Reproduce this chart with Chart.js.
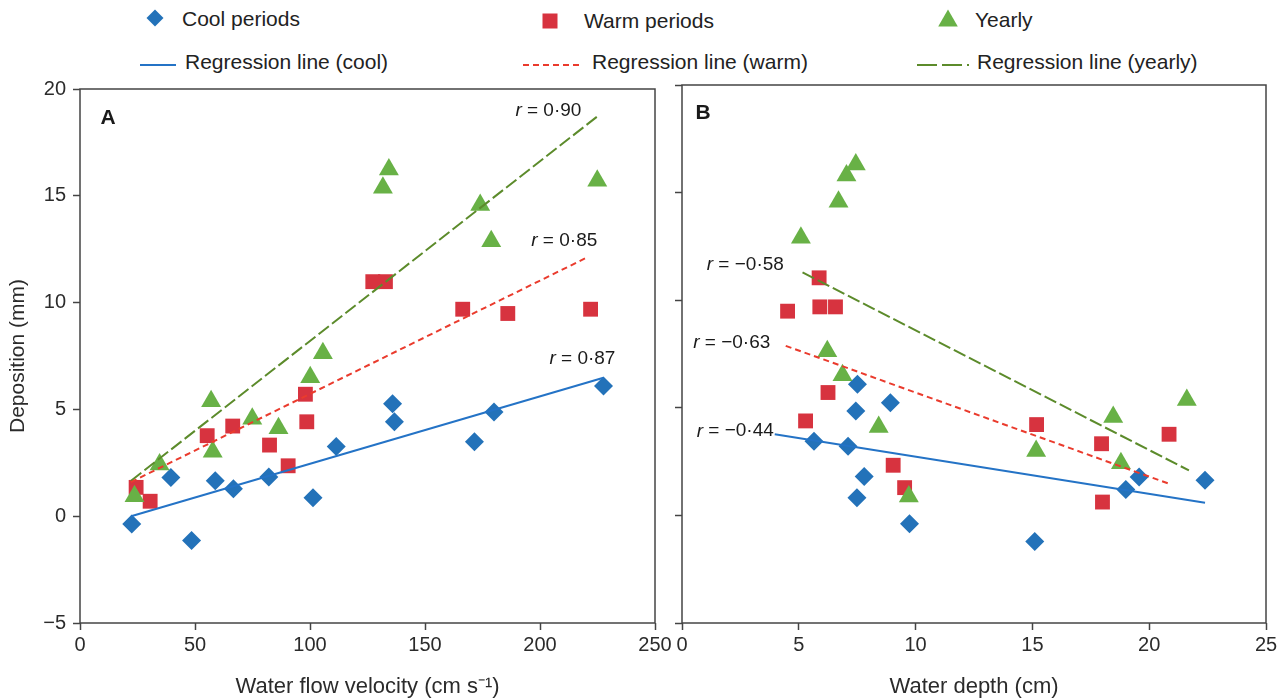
<!DOCTYPE html>
<html>
<head>
<meta charset="utf-8">
<script src="https://cdn.jsdelivr.net/npm/chart.js@4.4.1/dist/chart.umd.min.js"></script>
<style>
  html, body { margin: 0; padding: 0; background: #ffffff; }
  body { width: 1288px; height: 698px; position: relative; overflow: hidden;
         font-family: "Liberation Sans", Arial, sans-serif; }
  .lg { position: absolute; font-size: 21px; line-height: 1; color: #222; white-space: nowrap; }
  .mk { position: absolute; }
  #wrapA { position: absolute; left: 0; top: 70px; width: 690px; height: 628px; }
  #wrapB { position: absolute; left: 660px; top: 70px; width: 628px; height: 628px; }
</style>
</head>
<body>
<div id="legend"></div>
<div id="wrapA"><canvas id="cA" width="690" height="628"></canvas></div>
<div id="wrapB"><canvas id="cB" width="628" height="628"></canvas></div>
<script>
// ---------------- DATA ----------------
// Panel A: water flow velocity (cm s-1) vs deposition (mm)
const coolVelX  = [22.5, 48.5, 39.5, 58.8, 66.7, 82.1, 101.3, 111.4, 135.9, 136.7, 171.5, 180.0, 227.6];
const coolVelY  = [-0.36, -1.14, 1.81, 1.66, 1.28, 1.84, 0.86, 3.26, 5.26, 4.42, 3.49, 4.88, 6.09];
const warmVelX  = [24.4, 30.5, 55.3, 66.4, 82.4, 90.5, 98.0, 98.6, 127.3, 132.8, 166.4, 186.0, 222.0];
const warmVelY  = [1.35, 0.70, 3.77, 4.22, 3.33, 2.36, 5.71, 4.42, 10.98, 10.98, 9.69, 9.49, 9.69];
const yearVelX  = [23.7, 34.6, 57.0, 57.7, 74.9, 86.3, 100.1, 105.6, 134.3, 131.7, 174.0, 178.8, 224.9];
const yearVelY  = [0.93, 2.42, 5.38, 3.02, 4.56, 4.12, 6.51, 7.63, 16.23, 15.38, 14.57, 12.87, 15.70];
// regression line end points (panel A)
const coolLineVelX = [22.2, 227.6];  const coolLineVelY = [0.0, 6.48];
const warmLineVelX = [22.2, 220.0];  const warmLineVelY = [1.6, 12.09];
const yearLineVelX = [22.2, 225.1];  const yearLineVelY = [1.66, 18.73];
// r labels (panel A), right-aligned at x
const rLabelsA = ["0·90", "0·85", "0·87"];
const rLabelsAX = [218, 224.9, 232.8];
const rLabelsAY = [18.99, 12.9, 7.36];

// Panel B: water depth (cm) vs deposition (mm)
const coolDepX = [7.51, 8.92, 7.44, 5.65, 7.11, 7.80, 7.49, 9.74, 15.1, 19.0, 19.57, 22.39];
const coolDepY = [6.09, 5.24, 4.85, 3.44, 3.21, 1.81, 0.82, -0.39, -1.21, 1.20, 1.78, 1.63];
const warmDepX = [5.87, 4.52, 5.90, 6.57, 6.25, 5.29, 9.04, 9.53, 15.18, 17.96, 20.85, 18.0];
const warmDepY = [11.04, 9.49, 9.69, 9.69, 5.71, 4.39, 2.33, 1.29, 4.22, 3.33, 3.77, 0.62];
const yearDepX = [7.44, 7.04, 6.70, 5.09, 6.22, 6.87, 8.42, 9.71, 15.16, 18.46, 18.79, 21.61];
const yearDepY = [16.31, 15.80, 14.57, 12.90, 7.63, 6.51, 4.11, 0.88, 2.99, 4.57, 2.42, 5.36];
// regression line end points (panel B)
const coolLineDepX = [3.97, 22.39];  const coolLineDepY = [3.77, 0.59];
const warmLineDepX = [4.44, 20.85];  const warmLineDepY = [7.88, 1.47];
const yearLineDepX = [5.16, 21.70];  const yearLineDepY = [11.29, 2.09];
// r labels (panel B), left-aligned at x
const rLabelsB = ["−0·58", "−0·63", "−0·44"];
const rLabelsBX = [1.06, 0.48, 0.63];
const rLabelsBY = [11.63, 8.01, 3.91];

// axis ticks
const yTicks = [-5, 0, 5, 10, 15, 20];
const xTicksA = [0, 50, 100, 150, 200, 250];
const xTicksB = [0, 5, 10, 15, 20, 25];

const seriesNames = ["Cool periods", "Warm periods", "Yearly"];
const lineNames = ["Regression line (cool)", "Regression line (warm)", "Regression line (yearly)"];

// ---------------- STYLE ----------------
const C = {
  cool: '#2372b9', warm: '#d7333f', yearly: '#68b146',
  coolLine: '#2473c6', warmLine: '#ea3b2d', yearLine: '#5c8b2b',
  axis: '#444444', text: '#2b2b2b'
};
const FONT = '"Liberation Sans", Arial, sans-serif';
Chart.defaults.font.family = FONT;
Chart.defaults.color = C.text;

function pts(xs, ys) { return xs.map((x, i) => ({ x: x, y: ys[i] })); }

function datasets(cX, cY, wX, wY, yX, yY, clX, clY, wlX, wlY, ylX, ylY) {
  return [
    { label: lineNames[0], data: pts(clX, clY), showLine: true, borderColor: C.coolLine,
      borderWidth: 2, pointRadius: 0, pointHoverRadius: 0 },
    { label: lineNames[1], data: pts(wlX, wlY), showLine: true, borderColor: C.warmLine,
      borderWidth: 2, borderDash: [6, 4], pointRadius: 0, pointHoverRadius: 0 },
    { label: lineNames[2], data: pts(ylX, ylY), showLine: true, borderColor: C.yearLine,
      borderWidth: 2, borderDash: [13, 4], pointRadius: 0, pointHoverRadius: 0 },
    { label: seriesNames[2], data: pts(yX, yY), pointStyle: 'triangle', pointRadius: 11.5,
      backgroundColor: C.yearly, borderColor: C.yearly, borderWidth: 0 },
    { label: seriesNames[1], data: pts(wX, wY), pointStyle: 'rect', pointRadius: 10.5,
      backgroundColor: C.warm, borderColor: C.warm, borderWidth: 0 },
    { label: seriesNames[0], data: pts(cX, cY), pointStyle: 'rectRot', pointRadius: 9.5,
      backgroundColor: C.cool, borderColor: C.cool, borderWidth: 0 }
  ];
}

const framePlugin = {
  id: 'frame',
  beforeDatasetsDraw(chart) {
    const a = chart.chartArea, ctx = chart.ctx;
    ctx.save();
    ctx.strokeStyle = C.axis;
    ctx.lineWidth = 1.5;
    ctx.strokeRect(a.left, a.top, a.right - a.left, a.bottom - a.top);
    ctx.restore();
  }
};

const notesPlugin = {
  id: 'notes',
  afterDatasetsDraw(chart, args, opts) {
    const ctx = chart.ctx, xs = chart.scales.x, ys = chart.scales.y, a = chart.chartArea;
    ctx.save();
    // panel letter
    ctx.font = 'bold 21px ' + FONT;
    ctx.fillStyle = '#1a1a1a';
    ctx.textBaseline = 'middle';
    ctx.textAlign = 'center';
    ctx.fillText(opts.letter, a.left + opts.letterDx, a.top + opts.letterDy);
    // r labels
    ctx.textAlign = 'left';
    opts.texts.forEach((t, i) => {
      const px = xs.getPixelForValue(opts.xs[i]);
      const py = ys.getPixelForValue(opts.ys[i]);
      ctx.font = 'italic 19px ' + FONT;
      const w1 = ctx.measureText('r').width;
      ctx.font = '19px ' + FONT;
      const rest = ' = ' + t;
      const w2 = ctx.measureText(rest).width;
      const x0 = opts.align === 'right' ? px - (w1 + w2) : px;
      ctx.fillStyle = '#1a1a1a';
      ctx.font = 'italic 19px ' + FONT;
      ctx.fillText('r', x0, py);
      ctx.font = '19px ' + FONT;
      ctx.fillText(rest, x0 + w1, py);
    });
    ctx.restore();
  }
};

function minusFmt(v) { return String(v).replace('-', '−'); }

function options(xTicks, xTitle, yWidth, showYLabels, pad, notes) {
  const gridCommon = { drawOnChartArea: false, drawTicks: true, tickLength: 7,
                       tickColor: C.axis, tickWidth: 1.5 };
  return {
    responsive: false,
    animation: false,
    layout: { padding: pad },
    plugins: { legend: { display: false }, tooltip: { enabled: false }, notes: notes },
    scales: {
      x: {
        type: 'linear', min: xTicks[0], max: xTicks[xTicks.length - 1],
        afterBuildTicks: s => { s.ticks = xTicks.map(v => ({ value: v })); },
        ticks: { color: C.text, font: { size: 20 }, padding: 3, callback: v => minusFmt(v) },
        grid: gridCommon,
        border: { display: false },
        title: { display: true, text: xTitle, color: C.text,
                 font: { size: 22, lineHeight: 1 }, padding: { top: 0, bottom: 0 } },
        afterFit: s => { s.height = 75; }
      },
      y: {
        type: 'linear', min: yTicks[0], max: yTicks[yTicks.length - 1],
        afterBuildTicks: s => { s.ticks = yTicks.map(v => ({ value: v })); },
        ticks: { display: showYLabels, color: C.text, font: { size: 20 }, padding: 7,
                 callback: v => minusFmt(v) },
        grid: gridCommon,
        border: { display: false },
        title: { display: showYLabels, text: 'Deposition (mm)', color: C.text,
                 font: { size: 21, lineHeight: 1 }, padding: { top: 8, bottom: 0 } },
        afterFit: s => { s.width = yWidth; }
      }
    }
  };
}

new Chart(document.getElementById('cA'), {
  type: 'scatter',
  data: { datasets: datasets(coolVelX, coolVelY, warmVelX, warmVelY, yearVelX, yearVelY,
                             coolLineVelX, coolLineVelY, warmLineVelX, warmLineVelY,
                             yearLineVelX, yearLineVelY) },
  options: options(xTicksA, 'Water flow velocity (cm s⁻¹)', 80, true,
                   { left: 0, top: 15, right: 35, bottom: 0 },
                   { letter: 'A', letterDx: 28, letterDy: 29, texts: rLabelsA,
                     xs: rLabelsAX, ys: rLabelsAY, align: 'right' }),
  plugins: [framePlugin, notesPlugin]
});

new Chart(document.getElementById('cB'), {
  type: 'scatter',
  data: { datasets: datasets(coolDepX, coolDepY, warmDepX, warmDepY, yearDepX, yearDepY,
                             coolLineDepX, coolLineDepY, warmLineDepX, warmLineDepY,
                             yearLineDepX, yearLineDepY) },
  options: options(xTicksB, 'Water depth (cm)', 22, false,
                   { left: 0, top: 15, right: 22, bottom: 0 },
                   { letter: 'B', letterDx: 21, letterDy: 28, texts: rLabelsB,
                     xs: rLabelsBX, ys: rLabelsBY, align: 'left' }),
  plugins: [framePlugin, notesPlugin]
});

// ---------------- LEGEND (HTML) ----------------
(function () {
  const lg = document.getElementById('legend');
  const svgNS = 'http://www.w3.org/2000/svg';
  function svg(left, top, w, h, inner) {
    const d = document.createElement('div');
    d.className = 'mk';
    d.style.left = left + 'px'; d.style.top = top + 'px';
    d.innerHTML = '<svg xmlns="' + svgNS + '" width="' + w + '" height="' + h + '">' + inner + '</svg>';
    lg.appendChild(d);
  }
  function label(text, left, top) {
    const s = document.createElement('div');
    s.className = 'lg';
    s.style.left = left + 'px'; s.style.top = top + 'px';
    s.textContent = text;
    lg.appendChild(s);
  }
  // markers row
  svg(146, 9, 18, 18, '<polygon points="9,0.5 17.5,9 9,17.5 0.5,9" fill="' + C.cool + '"/>');
  label(seriesNames[0], 182, 8);
  svg(542, 13, 16, 16, '<rect x="0.5" y="0.5" width="15" height="15" fill="' + C.warm + '"/>');
  label(seriesNames[1], 584, 10);
  svg(938, 9, 20, 18, '<polygon points="10,0.5 19.8,17.5 0.2,17.5" fill="' + C.yearly + '"/>');
  label(seriesNames[2], 975, 9);
  // lines row
  svg(140, 56, 36, 10, '<line x1="0" y1="5" x2="36" y2="5" stroke="' + C.coolLine + '" stroke-width="2"/>');
  label(lineNames[0], 185, 51);
  svg(523, 56, 56, 10, '<line x1="0" y1="5" x2="56" y2="5" stroke="' + C.warmLine + '" stroke-width="2" stroke-dasharray="6,4"/>');
  label(lineNames[1], 592, 51);
  svg(917, 56, 52, 10, '<line x1="0" y1="5" x2="52" y2="5" stroke="' + C.yearLine + '" stroke-width="2" stroke-dasharray="20,5"/>');
  label(lineNames[2], 977, 51);
})();
</script>
</body>
</html>
